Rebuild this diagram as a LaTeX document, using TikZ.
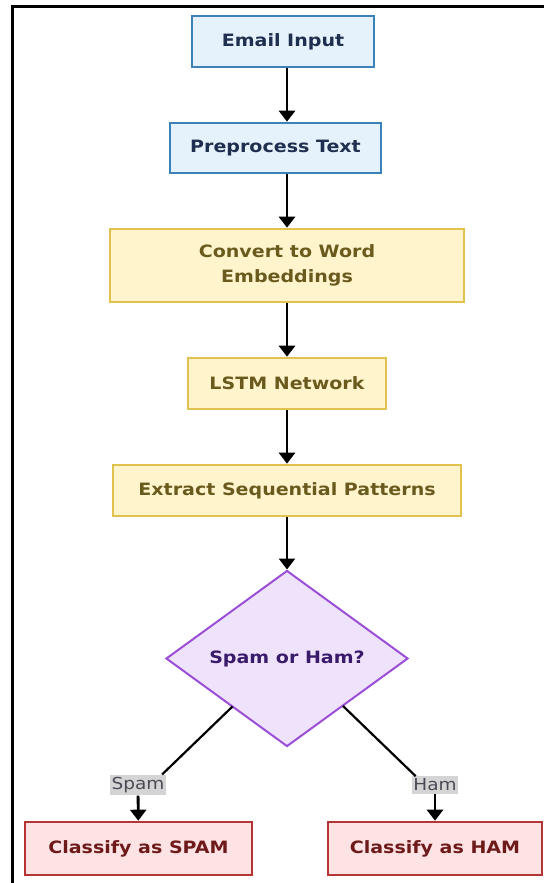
\documentclass[tikz,border=0pt]{standalone}
\usepackage{fontspec}
\setmainfont{DejaVu Sans}[FakeStretch=1.12]
\usetikzlibrary{shapes.geometric,arrows.meta}
\definecolor{bluefill}{HTML}{E6F2FB}
\definecolor{blueline}{HTML}{3B82B8}
\definecolor{bluetext}{HTML}{1E2F4F}
\definecolor{yelfill}{HTML}{FFF4CC}
\definecolor{yelline}{HTML}{E2C24E}
\definecolor{yeltext}{HTML}{6B5A1E}
\definecolor{purfill}{HTML}{EFE3FB}
\definecolor{purline}{HTML}{9B4FD8}
\definecolor{purtext}{HTML}{3A1A6A}
\definecolor{redfill}{HTML}{FDE3E3}
\definecolor{redline}{HTML}{B53434}
\definecolor{redtext}{HTML}{6E1A1A}
\definecolor{tagfill}{HTML}{D4D4D4}
\definecolor{tagtext}{HTML}{4A4A55}
\tikzset{
  box/.style={draw, line width=2.6bp, rectangle, align=center, inner sep=0pt,
    font=\fontsize{17bp}{25bp}\selectfont\bfseries},
  bluebox/.style={box, fill=bluefill, draw=blueline, text=bluetext},
  yelbox/.style={box, fill=yelfill, draw=yelline, text=yeltext},
  redbox/.style={box, fill=redfill, draw=redline, text=redtext},
  decision/.style={diamond, draw=purline, fill=purfill, line width=2bp, text=purtext,
    inner sep=0pt, font=\fontsize{17bp}{20bp}\selectfont\bfseries},
  flow/.style={draw=black, line width=2.8bp, -{Triangle[length=11bp,width=16bp]}},
  branch/.style={draw=black, line width=2.2bp},
  tag/.style={fill=tagfill, text=tagtext, inner xsep=1.5bp, inner ysep=2.5bp,
    font=\fontsize{16.5bp}{18bp}\selectfont},
}
\begin{document}
\begin{tikzpicture}[x=1bp, y=-1bp]
  \useasboundingbox (0,0) rectangle (544,883);
  % outer frame (top and left edges)
  \coordinate (fbl) at (12.5,883);
  \coordinate (ftl) at (12.5,6.5);
  \coordinate (ftr) at (544,6.5);
  \draw[line width=2.8bp] (fbl) -- (ftl) -- (ftr);

  \node[bluebox, minimum width=182bp, minimum height=51bp] (input) at (283,41.5) {Email Input};
  \node[bluebox, minimum width=211bp, minimum height=50bp] (prep) at (275.5,148) {Preprocess Text};
  \node[yelbox, minimum width=354bp, minimum height=73bp] (embed) at (287,265.5) {Convert to Word\\Embeddings};
  \node[yelbox, minimum width=198bp, minimum height=51bp] (lstm) at (287,383.5) {LSTM Network};
  \node[yelbox, minimum width=348bp, minimum height=51bp] (extract) at (287,490.5) {Extract Sequential Patterns};
  \node[decision, minimum width=242bp, minimum height=176bp] (dec) at (287,658.5) {Spam or Ham?};
  \node[redbox, minimum width=227bp, minimum height=53bp] (spam) at (138.5,848.5) {Classify as SPAM};
  \node[redbox, minimum width=214bp, minimum height=53bp] (ham) at (435,848.5) {Classify as HAM};

  \node[tag] (tspam) at (138,785) {Spam};
  \node[tag] (tham) at (435,785) {Ham};

  % main spine of the flow
  \path[flow] (input.south -| dec.north) -- (prep.north -| dec.north);
  \path[flow] (prep.south -| dec.north) -- (embed.north -| dec.north);
  \path[flow] (embed) -- (lstm);
  \path[flow] (lstm) -- (extract);
  \path[flow] (extract) -- (dec.north);

  % branches out of the decision
  \coordinate (sl) at (232.5,706.5);
  \coordinate (sr) at (343,706);
  \path[branch] (sl) -- ([xshift=-4bp]tspam.north east);
  \path[branch] (sr) -- ([xshift=4bp]tham.north west);
  \path[flow] (tspam) -- (spam);
  \path[flow] (tham) -- (ham);
\end{tikzpicture}
\end{document}
